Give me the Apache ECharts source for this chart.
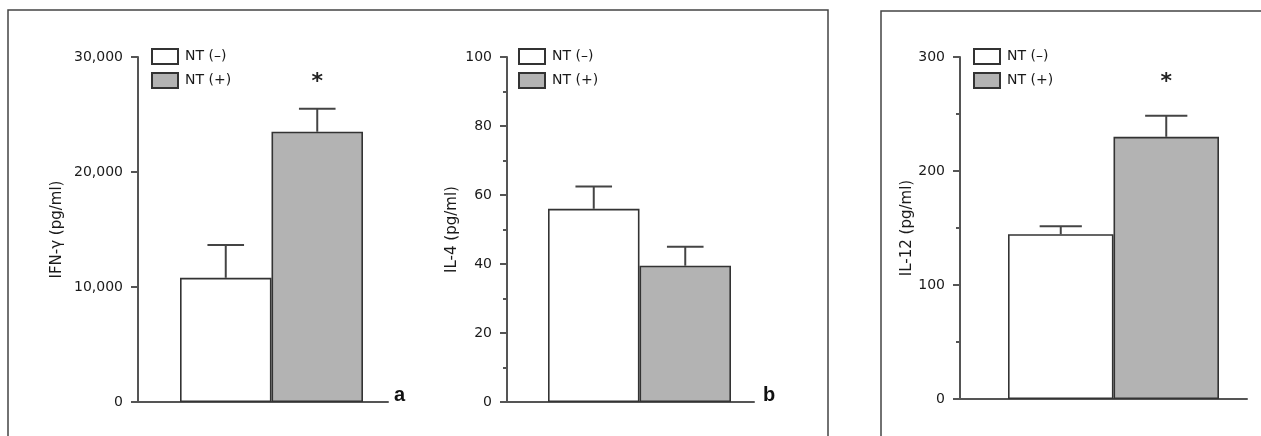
<!DOCTYPE html>
<html>
<head>
<meta charset="utf-8">
<script src="https://cdn.jsdelivr.net/npm/echarts@6/dist/echarts.min.js"></script>
<style>
  html, body { margin: 0; padding: 0; background: #fff; }
  #chart { width: 1261px; height: 436px; }
</style>
</head>
<body>
<div id="chart"></div>
<script>
  // groups and measured values (mean, SEM) for each cytokine
  const groups = ['NT (–)', 'NT (+)'];
  const ifnMean = [10800, 23500];
  const ifnErr = [2850, 2000];
  const ifnSig = [false, true];
  const ifnTicks = [0, 10000, 20000, 30000];

  const il4Mean = [56, 39.5];
  const il4Err = [6.5, 5.5];
  const il4Sig = [false, false];
  const il4Ticks = [0, 20, 40, 60, 80, 100];

  const il12Mean = [144.5, 230];
  const il12Err = [7, 18.5];
  const il12Sig = [false, true];
  const il12Ticks = [0, 100, 200, 300];

  const FONT = 'DejaVu Sans';
  const AXIS_COLOR = '#555';
  const EDGE_COLOR = '#333';
  const TEXT_COLOR = '#1a1a1a';

  const panels = [
    { name: 'IFN-γ (pg/ml)', mean: ifnMean, err: ifnErr, sig: ifnSig, ticks: ifnTicks, minor: false,
      axisLeft: 138, axisWidth: 250, barLeft: 180, barWidth: 183, top: 57, height: 345, nameGap: 73, legendLeft: 151 },
    { name: 'IL-4 (pg/ml)', mean: il4Mean, err: il4Err, sig: il4Sig, ticks: il4Ticks, minor: true,
      axisLeft: 507, axisWidth: 247, barLeft: 548, barWidth: 183, top: 57, height: 345, nameGap: 47, legendLeft: 518 },
    { name: 'IL-12 (pg/ml)', mean: il12Mean, err: il12Err, sig: il12Sig, ticks: il12Ticks, minor: true,
      axisLeft: 960, axisWidth: 287, barLeft: 1008, barWidth: 211, top: 57, height: 342, nameGap: 45, legendLeft: 973 }
  ];

  let grid = [], xAxis = [], yAxis = [], series = [], legend = [];

  panels.forEach((p, k) => {
    const a = 2 * k, b = 2 * k + 1;
    const yMin = p.ticks[0], yMax = p.ticks[p.ticks.length - 1];
    const step = p.ticks[1] - p.ticks[0];

    grid.push({ left: p.axisLeft, top: p.top, width: p.axisWidth, height: p.height, outerBoundsMode: 'none' });
    grid.push({ left: p.barLeft, top: p.top, width: p.barWidth, height: p.height, outerBoundsMode: 'none' });

    xAxis.push({
      gridIndex: a, type: 'category', data: [''],
      axisLine: { show: true, lineStyle: { color: AXIS_COLOR, width: 2 } },
      axisTick: { show: false }, axisLabel: { show: false }
    });
    xAxis.push({ gridIndex: b, type: 'category', data: groups, show: false });

    yAxis.push({
      gridIndex: a, type: 'value', min: yMin, max: yMax, interval: step,
      name: p.name, nameLocation: 'middle', nameGap: p.nameGap, nameMoveOverlap: false,
      nameTextStyle: { fontFamily: FONT, fontSize: 15, color: TEXT_COLOR },
      axisLine: { show: true, lineStyle: { color: AXIS_COLOR, width: 2 } },
      axisTick: { show: true, length: 7, lineStyle: { color: AXIS_COLOR, width: 2 } },
      minorTick: { show: p.minor, splitNumber: 2, length: 4, lineStyle: { color: AXIS_COLOR, width: 2 } },
      splitLine: { show: false }, minorSplitLine: { show: false },
      axisLabel: {
        margin: 15, fontFamily: FONT, fontSize: 14, color: TEXT_COLOR,
        formatter: v => v.toLocaleString('en-US')
      }
    });
    yAxis.push({ gridIndex: b, type: 'value', min: yMin, max: yMax, show: false });

    series.push({
      name: groups[0], type: 'bar', xAxisIndex: b, yAxisIndex: b,
      data: [p.mean[0], '-'], barWidth: '100%', barGap: '-100%',
      itemStyle: { color: '#fff', borderColor: EDGE_COLOR, borderWidth: 1.6 }
    });
    series.push({
      name: groups[1], type: 'bar', xAxisIndex: b, yAxisIndex: b,
      data: ['-', p.mean[1]], barWidth: '100%', barGap: '-100%',
      itemStyle: { color: '#b3b3b3', borderColor: EDGE_COLOR, borderWidth: 1.6 }
    });
    series.push({
      type: 'custom', xAxisIndex: b, yAxisIndex: b, silent: true, z: 3,
      data: p.mean.map((m, i) => [i, m, p.err[i], p.sig[i] ? 1 : 0]),
      encode: { x: 0, y: 1 },
      renderItem(params, api) {
        const i = api.value(0), m = api.value(1), e = api.value(2);
        const base = api.coord([i, m]);
        const tip = api.coord([i, m + e]);
        const half = api.size([1, 0])[0] * 0.2;
        const style = { stroke: '#444', lineWidth: 2 };
        const children = [
          { type: 'line', shape: { x1: base[0], y1: base[1], x2: tip[0], y2: tip[1] }, style },
          { type: 'line', shape: { x1: tip[0] - half, y1: tip[1], x2: tip[0] + half, y2: tip[1] }, style }
        ];
        if (api.value(3)) {
          const yTop = api.coord([i, yMax])[1];
          children.push({
            type: 'text',
            style: { text: '*', x: tip[0], y: yTop + 25, align: 'center', verticalAlign: 'middle',
              fontFamily: FONT, fontSize: 22, fontWeight: 'bold', fill: '#222' }
          });
        }
        return { type: 'group', children };
      }
    });

    legend.push({
      data: groups, left: p.legendLeft, top: 48, orient: 'vertical', padding: 0,
      icon: 'rect', itemWidth: 26, itemHeight: 15, itemGap: 7, selectedMode: false,
      textStyle: { fontFamily: FONT, fontSize: 14, color: TEXT_COLOR, padding: [0, 0, 0, 2] }
    });
  });

  const chart = echarts.init(document.getElementById('chart'));
  chart.setOption({
    animation: false,
    backgroundColor: '#fff',
    title: [
      { text: 'a', left: 394, top: 385, padding: 0, textStyle: { fontFamily: 'Liberation Sans', fontSize: 20, fontWeight: 'bold', color: '#111' } },
      { text: 'b', left: 763, top: 385, padding: 0, textStyle: { fontFamily: 'Liberation Sans', fontSize: 20, fontWeight: 'bold', color: '#111' } }
    ],
    graphic: [
      { type: 'rect', shape: { x: 8, y: 10, width: 820, height: 460 }, style: { fill: 'none', stroke: '#444', lineWidth: 1.5 }, silent: true },
      { type: 'rect', shape: { x: 881, y: 11, width: 420, height: 460 }, style: { fill: 'none', stroke: '#444', lineWidth: 1.5 }, silent: true }
    ],
    legend, grid, xAxis, yAxis, series
  });
</script>
</body>
</html>
